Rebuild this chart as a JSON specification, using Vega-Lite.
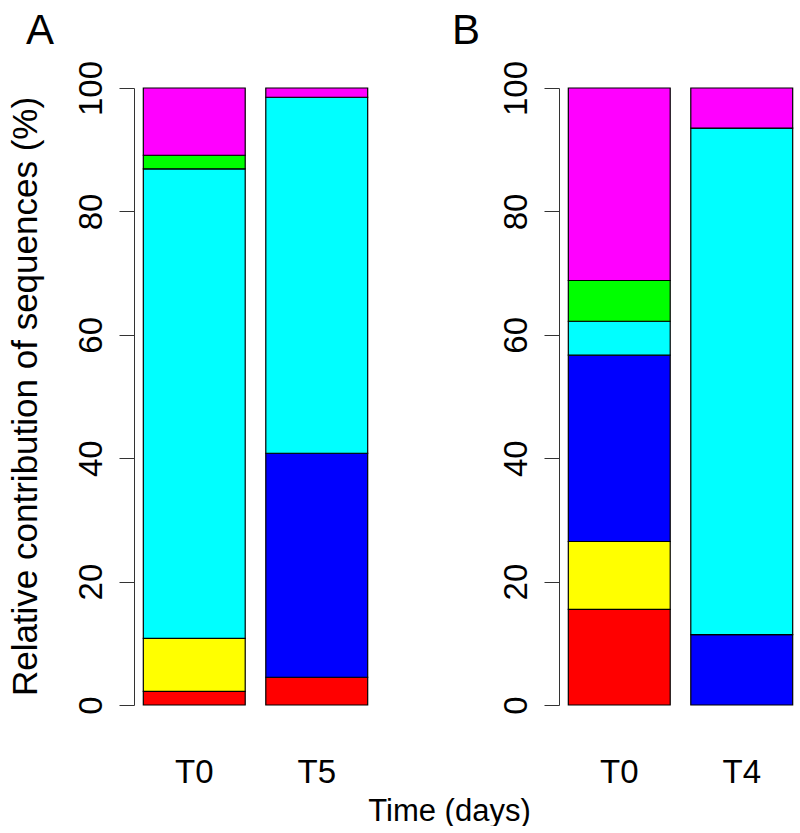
{
  "$schema": "https://vega.github.io/schema/vega-lite/v6.json",
  "background": "white",
  "autosize": {"type": "pad"},
  "padding": {"left": 8, "top": 10, "right": 0, "bottom": 0},
  "config": {
    "view": {"stroke": null},
    "font": "Liberation Sans",
    "axis": {"grid": false, "labelFont": "Liberation Sans", "titleFont": "Liberation Sans", "labelColor": "black", "titleColor": "black", "titleFontWeight": "normal"},
    "title": {"font": "Liberation Sans", "fontWeight": "normal", "color": "black"}
  },
  "datasets": {
    "seq": [
      {"panel": "A", "time": "T0", "taxon": "Taxon 1", "value": 2.2},
      {"panel": "A", "time": "T0", "taxon": "Taxon 2", "value": 8.6},
      {"panel": "A", "time": "T0", "taxon": "Taxon 4", "value": 76.1},
      {"panel": "A", "time": "T0", "taxon": "Taxon 5", "value": 2.2},
      {"panel": "A", "time": "T0", "taxon": "Taxon 6", "value": 10.9},
      {"panel": "A", "time": "T5", "taxon": "Taxon 1", "value": 4.5},
      {"panel": "A", "time": "T5", "taxon": "Taxon 3", "value": 36.3},
      {"panel": "A", "time": "T5", "taxon": "Taxon 4", "value": 57.7},
      {"panel": "A", "time": "T5", "taxon": "Taxon 6", "value": 1.5},
      {"panel": "B", "time": "T0", "taxon": "Taxon 1", "value": 15.5},
      {"panel": "B", "time": "T0", "taxon": "Taxon 2", "value": 11.0},
      {"panel": "B", "time": "T0", "taxon": "Taxon 3", "value": 30.2},
      {"panel": "B", "time": "T0", "taxon": "Taxon 4", "value": 5.5},
      {"panel": "B", "time": "T0", "taxon": "Taxon 5", "value": 6.6},
      {"panel": "B", "time": "T0", "taxon": "Taxon 6", "value": 31.2},
      {"panel": "B", "time": "T4", "taxon": "Taxon 3", "value": 11.4},
      {"panel": "B", "time": "T4", "taxon": "Taxon 4", "value": 82.1},
      {"panel": "B", "time": "T4", "taxon": "Taxon 6", "value": 6.5}
    ]
  },
  "spacing": 182,
  "bounds": "flush",
  "hconcat": [
    {
      "data": {"name": "seq"},
      "transform": [{"filter": "datum.panel === 'A'"}],
      "width": 243,
      "height": 617,
      "title": {"text": "A", "anchor": "start", "frame": "group", "fontSize": 42, "dx": -108, "offset": 7},
      "mark": {"type": "bar", "stroke": "black", "strokeWidth": 1.2},
      "encoding": {
        "x": {"field": "time", "type": "nominal", "sort": ["T0", "T5"],
              "scale": {"paddingInner": 0.168, "paddingOuter": 0.076},
              "axis": {"title": "Time (days)", "titleFontSize": 31, "titleX": 315, "titleY": 115, "titleBaseline": "alphabetic", "titleAnchor": "middle", "domain": false, "ticks": false, "labelAngle": 0, "labelFontSize": 33, "labelPadding": 51}},
        "y": {"field": "value", "type": "quantitative", "stack": "zero",
              "scale": {"domain": [0, 100], "nice": false},
              "axis": {"title": "Relative contribution of sequences (%)", "values": [0, 20, 40, 60, 80, 100], "tickSize": 15, "tickColor": "#333", "domainColor": "#333", "labelAngle": -90, "labelFontSize": 33, "labelPadding": 11, "titleFontSize": 35, "titleX": -98, "titleY": 308, "titleBaseline": "alphabetic", "titleAngle": -90}},
        "color": {"field": "taxon", "type": "nominal", "legend": null,
                  "scale": {"domain": ["Taxon 1", "Taxon 2", "Taxon 3", "Taxon 4", "Taxon 5", "Taxon 6"], "range": ["#FF0000", "#FFFF00", "#0000FF", "#00FFFF", "#00FF00", "#FF00FF"]}},
        "order": {"field": "taxon", "sort": "ascending"}
      }
    },
    {
      "data": {"name": "seq"},
      "transform": [{"filter": "datum.panel === 'B'"}],
      "width": 243,
      "height": 617,
      "title": {"text": "B", "anchor": "start", "frame": "group", "fontSize": 42, "dx": -107, "offset": 7},
      "mark": {"type": "bar", "stroke": "black", "strokeWidth": 1.2},
      "encoding": {
        "x": {"field": "time", "type": "nominal", "sort": ["T0", "T4"],
              "scale": {"paddingInner": 0.168, "paddingOuter": 0.076},
              "axis": {"title": null, "domain": false, "ticks": false, "labelAngle": 0, "labelFontSize": 33, "labelPadding": 51}},
        "y": {"field": "value", "type": "quantitative", "stack": "zero",
              "scale": {"domain": [0, 100], "nice": false},
              "axis": {"title": null, "values": [0, 20, 40, 60, 80, 100], "tickSize": 15, "tickColor": "#333", "domainColor": "#333", "labelAngle": -90, "labelFontSize": 33, "labelPadding": 11}},
        "color": {"field": "taxon", "type": "nominal", "legend": null,
                  "scale": {"domain": ["Taxon 1", "Taxon 2", "Taxon 3", "Taxon 4", "Taxon 5", "Taxon 6"], "range": ["#FF0000", "#FFFF00", "#0000FF", "#00FFFF", "#00FF00", "#FF00FF"]}},
        "order": {"field": "taxon", "sort": "ascending"}
      }
    }
  ]
}
